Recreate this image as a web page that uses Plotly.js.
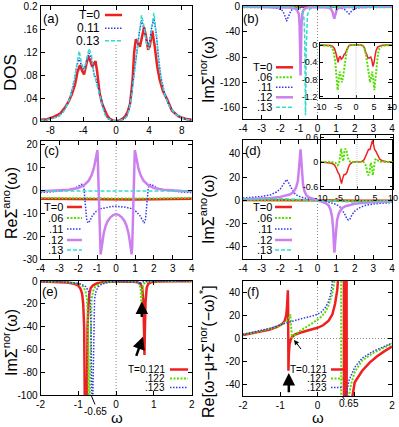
<!DOCTYPE html>
<html>
<head>
<meta charset="utf-8">
<script src="https://cdn.plot.ly/plotly-3.0.1.min.js"></script>
<style>html,body{margin:0;padding:0;background:#fff}</style>
</head>
<body>
<div id="fig" style="width:399px;height:427px"></div>
<script>
// ---------- values ----------
// (a) DOS
const aRedX = [-9.2,-8.4,-7.6,-6.8,-6.2,-5.8,-5.4,-5.0,-4.7,-4.4,-4.1,-3.9,-3.6,-3.4,-3.1,-2.9,-2.7,-2.5,-2.3,-2.0,-1.7,-1.4,-1.1,-0.8,-0.4,0,0.4,0.8,1.1,1.4,1.7,2.0,2.2,2.4,2.6,2.9,3.2,3.4,3.6,3.9,4.1,4.4,4.7,5.0,5.3,5.7,6.2,6.8,7.6,8.4,9.2];
const aRedY = [0.002,0.003,0.007,0.013,0.024,0.033,0.046,0.063,0.085,0.097,0.086,0.081,0.1,0.113,0.103,0.094,0.1,0.104,0.085,0.048,0.03,0.019,0.01,0.004,0.001,0,0.001,0.004,0.008,0.016,0.03,0.07,0.12,0.142,0.138,0.129,0.15,0.163,0.15,0.124,0.13,0.157,0.13,0.095,0.072,0.052,0.038,0.018,0.008,0.004,0.002];
const aX = [-9.2,-8,-7,-6.4,-5.9,-5.5,-5.1,-4.8,-4.5,-4.2,-3.9,-3.6,-3.3,-3.0,-2.7,-2.5,-2.2,-1.9,-1.6,-1.3,-1.0,-0.5,0,0.5,1.0,1.3,1.6,1.9,2.2,2.5,2.8,3.1,3.4,3.7,4.0,4.3,4.6,4.9,5.2,5.5,6.0,6.5,7.2,8.2,9.2];
const aBlueY = [0.001,0.003,0.008,0.017,0.03,0.046,0.07,0.095,0.11,0.095,0.09,0.105,0.118,0.108,0.083,0.075,0.058,0.04,0.023,0.011,0.004,0.001,0,0.001,0.003,0.009,0.022,0.05,0.09,0.118,0.152,0.175,0.16,0.14,0.13,0.16,0.178,0.15,0.105,0.073,0.043,0.026,0.012,0.004,0.001];
const aCyanY = [0.001,0.003,0.008,0.016,0.03,0.045,0.07,0.1,0.122,0.1,0.088,0.105,0.126,0.115,0.08,0.072,0.058,0.04,0.022,0.01,0.004,0.001,0,0.001,0.003,0.008,0.02,0.045,0.083,0.112,0.15,0.184,0.165,0.135,0.125,0.16,0.188,0.15,0.1,0.07,0.042,0.025,0.012,0.004,0.001];

// (b) Im Sigma_nor
const bFlatX = [-4,-2,0,2,4];
const bRedY = [-0.3,-0.4,-0.5,-0.4,-0.3];
const bGreenY = [-0.8,-1,-1.2,-1,-0.8];
const bBlueX = [-4,-3,-2.5,-2.1,-1.9,-1.78,-1.7,-1.66,-1.62,-1.54,-1.42,-1.25,-1,-0.5,0,0.5,1,1.25,1.45,1.6,1.7,1.8,1.95,2.2,2.6,3,4];
const bBlueY = [-0.3,-0.6,-1.2,-3,-6,-12,-19,-23,-20,-13,-6,-3,-1.5,-0.6,-0.4,-0.5,-1,-2,-4.5,-8.5,-11.5,-8,-4,-1.8,-0.8,-0.5,-0.2];
const bVioletX = [-4,-3,-2,-1.5,-1.25,-1.1,-1.0,-0.96,-0.93,-0.91,-0.89,-0.86,-0.82,-0.75,-0.6,-0.4,0,0.4,0.6,0.72,0.8,0.86,0.9,0.93,0.97,1.03,1.12,1.3,1.6,2,3,4];
const bVioletY = [-0.2,-0.3,-0.6,-1.2,-2.5,-5,-12,-30,-75,-109,-75,-30,-12,-5,-2,-1,-0.6,-0.8,-1.6,-3.5,-8,-14,-19,-16,-10,-5,-2.5,-1.2,-0.6,-0.4,-0.2,-0.1];
const bCyanX = [-4,-2,-1.4,-1.1,-0.9,-0.8,-0.73,-0.69,-0.66,-0.645,-0.63,-0.61,-0.58,-0.54,-0.48,-0.4,-0.25,0,0.5,1,2,4];
const bCyanY = [-0.1,-0.3,-0.8,-1.8,-4,-8,-18,-45,-110,-172,-150,-70,-30,-14,-7,-3.5,-1.5,-0.6,-0.3,-0.2,-0.1,0];
// (b) inset
const biRedX = [-10,-8,-7,-6.5,-6,-5.6,-5.3,-5.0,-4.7,-4.4,-4.1,-3.7,-3.3,-3.0,-2.7,-2.4,-2.0,-1.5,0,1.5,2.0,2.4,2.7,3.0,3.3,3.7,4.1,4.4,4.7,5.0,5.3,5.6,6,6.5,7,8,10];
const biRedY = [0,0,-0.01,-0.03,-0.08,-0.18,-0.3,-0.4,-0.3,-0.26,-0.33,-0.3,-0.22,-0.2,-0.14,-0.07,-0.02,0,0,0,-0.02,-0.08,-0.18,-0.22,-0.3,-0.3,-0.28,-0.35,-0.5,-0.42,-0.25,-0.12,-0.05,-0.02,-0.01,0,0];
const biGreenX = [-10,-8,-7,-6.5,-6.1,-5.7,-5.4,-5.1,-4.8,-4.5,-4.2,-3.9,-3.6,-3.3,-3.0,-2.6,-2.2,-1.7,0,1.7,2.2,2.6,3.0,3.3,3.6,3.9,4.2,4.5,4.8,5.1,5.4,5.7,6.1,6.5,7,8,10];
const biGreenY = [0,-0.01,-0.03,-0.08,-0.2,-0.45,-0.8,-1.05,-0.8,-0.62,-0.75,-0.87,-0.75,-0.55,-0.35,-0.15,-0.04,0,0,0,-0.04,-0.15,-0.35,-0.55,-0.75,-0.87,-0.75,-0.62,-0.8,-1.05,-0.8,-0.45,-0.2,-0.08,-0.03,-0.01,0];

// (c) Re Sigma_ano
const cFlatX = [-4,-3,-2,-1,0,1,2,3,4];
const cRedY = [-3.7,-3.8,-3.9,-4.0,-4.0,-4.0,-3.9,-3.8,-3.7];
const cGreenY = [-3.4,-3.5,-3.6,-3.6,-3.7,-3.6,-3.6,-3.5,-3.3];
const cCyanY = [-0.4,-0.3,-0.3,-0.3,-0.3,-0.3,-0.3,-0.3,-0.4];
const cBlueX = [-4,-3.5,-3,-2.5,-2.2,-2,-1.85,-1.76,-1.7,-1.66,-1.62,-1.56,-1.49,-1.4,-1.25,-1.05,-0.8,-0.5,-0.2,0,0.2,0.5,0.8,1.05,1.25,1.4,1.49,1.56,1.62,1.66,1.7,1.76,1.85,2,2.2,2.5,3,3.5,4];
const cBlueY = [-1,-0.8,-0.4,0.2,0.8,1.7,2.6,2.4,1,-3,-8,-12.5,-14.3,-13.5,-11,-9.2,-8,-7.4,-7.1,-7,-7.1,-7.4,-8,-9.2,-11,-13.5,-14.3,-12.5,-8,-3,1,2.4,2.6,1.7,0.8,0.2,-0.4,-0.8,-1];
const cVioletX = [-4,-3.5,-3,-2.5,-2,-1.7,-1.45,-1.3,-1.18,-1.08,-1.02,-0.99,-0.97,-0.94,-0.91,-0.88,-0.85,-0.82,-0.78,-0.72,-0.65,-0.55,-0.45,-0.3,-0.15,0,0.15,0.3,0.45,0.55,0.65,0.72,0.78,0.82,0.85,0.88,0.91,0.94,0.97,0.99,1.02,1.08,1.18,1.3,1.45,1.7,2,2.5,3,3.5,4];
const cVioletY = [-0.4,-0.3,-0.2,0.2,1,2.2,4.2,6.5,9.5,13.5,16.5,17.5,14,5,-6,-17,-25,-28,-26,-22,-18.5,-15.5,-13.5,-11.8,-10.8,-10.4,-10.8,-11.8,-13.5,-15.5,-18.5,-22,-26,-28,-25,-17,-6,5,14,17.5,16.5,13.5,9.5,6.5,4.2,2.2,1,0.2,-0.2,-0.3,-0.4];

// (d) Im Sigma_ano
const dFlatX = [-4,-2,0,2,4];
const dRedY = [0.3,0.4,0,-0.4,-0.3];
const dGreenY = [0.2,0.3,0,-0.3,-0.2];
const dCyanY = [1.2,1.5,0,-1.5,-1.2];
const dBlueX = [-4,-3.5,-3,-2.5,-2.2,-2,-1.85,-1.75,-1.66,-1.58,-1.47,-1.35,-1.2,-1,-0.7,-0.45,-0.2,0,0.2,0.45,0.7,1,1.2,1.35,1.47,1.58,1.66,1.75,1.85,2,2.2,2.5,3,3.5,4];
const dBlueY = [2,2.5,3.3,4.9,7.2,9.8,13.5,16.8,18,16,12,9,5.5,3.5,2,1.3,0.5,0,-0.5,-1.3,-2,-3.5,-5.5,-9,-12,-16,-17,-15.8,-12.5,-9.2,-6.8,-4.6,-3.1,-2.4,-1.9];
const dVioletX = [-4,-3,-2.5,-2,-1.5,-1.3,-1.15,-1.05,-0.98,-0.94,-0.91,-0.88,-0.84,-0.78,-0.7,-0.6,-0.45,-0.25,0,0.25,0.45,0.6,0.7,0.78,0.84,0.88,0.91,0.94,0.98,1.05,1.15,1.3,1.5,2,2.5,3,4];
const dVioletY = [1,1.5,2,3,5,7,11,17,27,38,44,38,24,14,8,4.5,2.5,1.2,0,-1.2,-2.5,-4.5,-8,-14,-24,-38,-45,-38,-27,-17,-11,-7,-5,-3,-2,-1.5,-1];
// (d) inset
const diRedX = [-10,-8,-7,-6.3,-5.8,-5.3,-4.9,-4.6,-4.3,-4.0,-3.6,-3.2,-2.8,-2.4,-2.0,-1.5,-1,0,1,1.5,2.0,2.4,2.8,3.2,3.6,4.0,4.3,4.6,4.9,5.3,5.8,6.3,7,8,10];
const diRedY = [0,-0.01,-0.03,-0.07,-0.14,-0.25,-0.3,-0.42,-0.52,-0.4,-0.3,-0.3,-0.25,-0.14,-0.06,-0.02,0,0,0,0.02,0.06,0.14,0.25,0.3,0.3,0.4,0.52,0.42,0.3,0.25,0.14,0.07,0.03,0.01,0];
const diGreenX = [-10,-7,-6,-5.4,-5.0,-4.7,-4.4,-4.1,-3.8,-3.5,-3.2,-2.9,-2.6,-2.2,-1.8,-1,0,1,1.8,2.2,2.6,2.9,3.2,3.5,3.8,4.1,4.4,4.7,5.0,5.4,6,7,10];
const diGreenY = [0,0,-0.02,-0.08,-0.05,0.15,0.32,0.1,0.02,0.25,0.32,0.28,0.12,0.03,0,0,0,0,0,-0.03,-0.12,-0.28,-0.32,-0.25,-0.02,-0.1,-0.32,-0.15,0.05,0.08,0.02,0,0];

// (e) Im Sigma_nor near Tc
const eRedX = [-2,-1.6,-1.3,-1.1,-1.0,-0.94,-0.9,-0.87,-0.845,-0.83,-0.8,-0.77,-0.755,-0.73,-0.705,-0.67,-0.6,-0.5,-0.35,-0.1,0.2,0.45,0.58,0.65,0.69,0.72,0.74,0.75,0.76,0.78,0.81,0.85,0.92,1.1,1.5,2];
const eRedY = [-0.4,-0.7,-1.3,-2.5,-4,-7,-11,-20,-40,-100,-600,-100,-40,-20,-11,-6,-3.5,-2,-1,-0.5,-0.4,-0.6,-1.2,-2.5,-6,-18,-45,-65,-45,-18,-6,-2.5,-1.2,-0.5,-0.3,-0.2];
const eGreenX = [-2,-1.6,-1.3,-1.1,-0.95,-0.87,-0.81,-0.77,-0.745,-0.725,-0.71,-0.695,-0.675,-0.65,-0.61,-0.55,-0.45,-0.3,-0.1,0.2,0.45,0.57,0.62,0.65,0.67,0.69,0.72,0.77,0.9,1.2,1.6,2];
const eGreenY = [-0.3,-0.6,-1,-1.8,-3,-5,-9,-16,-35,-100,-600,-100,-35,-16,-9,-5,-2.8,-1.3,-0.6,-0.3,-0.5,-1.2,-3,-8,-20,-8,-3,-1.2,-0.5,-0.3,-0.2,-0.1];
const eBlueX = [-2,-1.6,-1.3,-1.05,-0.9,-0.8,-0.73,-0.69,-0.665,-0.645,-0.63,-0.615,-0.595,-0.57,-0.53,-0.47,-0.38,-0.25,-0.05,0.3,0.5,0.6,0.63,0.66,0.72,1,1.5,2];
const eBlueY = [-0.3,-0.5,-0.9,-1.8,-3,-5,-9,-16,-35,-100,-600,-100,-35,-16,-9,-5,-2.8,-1.3,-0.5,-0.3,-0.6,-1.5,-3,-1.5,-0.6,-0.2,-0.1,-0.1];

// (f) Re[w - mu + Sigma_nor(-w)*]
const fRedX = [-2,-1.6,-1.3,-1.1,-0.95,-0.88,-0.84,-0.82,-0.805,-0.795,-0.787,-0.78,-0.77,-0.75,-0.72,-0.68,-0.6,-0.45,-0.25,0,0.15,0.3,0.4,0.47,0.53,0.58,0.64,0.7,0.72,0.765,0.775,0.79,0.9,0.94,1.0,1.2,1.4,1.6,1.8,2];
const fRedY = [3,5.2,7.5,10,12.5,15.5,20,27,36,42,20,-28,-14,-5,-1,1.5,3.5,5.2,7,9.3,11.5,15.5,21,30,42,55,90,600,-600,-600,600,-600,-70,-50,-38,-28,-21,-15.5,-11,-7];
const fGreenX = [-2,-1.5,-1.2,-1,-0.85,-0.78,-0.745,-0.728,-0.715,-0.7,-0.685,-0.66,-0.6,-0.5,-0.3,-0.1,0.1,0.2,0.3,0.38,0.45,0.52,0.58,0.63,0.645,0.72,0.78,0.83,0.9,1,1.2,1.5,1.8,2];
const fGreenY = [3.5,6.5,9,11.5,14.5,17,19,21,14,4,0.5,1.5,3.5,6,10,14,19,22.5,29,37,48,80,200,600,-600,-150,-75,-52,-40,-29,-19,-12.5,-7.5,-4.5];
const fBlueX = [-2,-1.5,-1.2,-1,-0.8,-0.7,-0.6,-0.4,-0.2,0,0.1,0.2,0.28,0.34,0.39,0.45,0.5,0.56,0.62,0.7,0.76,0.85,1,1.2,1.5,1.8,2];
const fBlueY = [3.5,7,9.5,12,14,15,16,17.5,19,21,23,26.5,31,37,46,70,150,null,-300,-80,-50,-36,-25,-17,-11,-7,-4];

// tick values / labels
const aXTicks = [-8,-4,0,4,8];
const aYTicks = [0,0.04,0.08,0.12,0.16,0.2];
const aYLabels = ['0','.04','.08','.12','.16','0.2'];
const wideTicks = [-4,-3,-2,-1,0,1,2,3,4];
const bYTicks = [0,-40,-80,-120,-160];
const insXTicks = [-10,-5,0,5,10];
const biYTicks = [0,-0.4,-0.8,-1.2];
const cYTicks = [20,10,0,-10,-20,-30];
const dYTicks = [40,20,0,-20,-40];
const diYTicks = [0.6,0,-0.6];
const narrowTicks = [-2,-1,0,1,2];
const eYTicks = [0,-20,-40,-60,-80,-100];
const fYTicks = [40,20,0,-20,-40];
const fXLabels = ['-2','-1','0','','2'];

const legA = ['T=0','0.11','0.13'];
const legT = ['T=0','.06','.11','.12','.13'];
const legE = ['T=0.121','.122','.123'];

// ---------- styling ----------
const W = 399, H = 427;
const FONT = 'Liberation Sans, Arial, sans-serif';
const fx = p => p / W;
const fy = p => 1 - p / H;
const lbl = v => v.map(String);

const red = {color: '#ee2020', width: 2.5};
const redThin = {color: '#ee2020', width: 1.5};
const green = {color: '#55dd00', width: 2, dash: '2px,1.5px'};
const blue = {color: '#3636f0', width: 1.5, dash: '1.5px,1.5px'};
const violet = {color: '#cc80f0', width: 2.5};
const cyan = {color: '#33ddcc', width: 1.5, dash: '4px,2px'};

function base(o, vals, labels, fs) {
  return Object.assign(o, {
    tickmode: 'array', tickvals: vals, ticktext: labels,
    ticks: 'inside', ticklen: fs < 10 ? 3 : 4, tickcolor: '#000',
    showline: true, mirror: 'ticks', linecolor: '#000', linewidth: 1,
    showgrid: false, zeroline: false, fixedrange: true,
    tickfont: {family: FONT, size: fs, color: '#000'}
  });
}
function xax(l, r, range, vals, labels, anchor, fs) {
  return base({domain: [fx(l), fx(r)], range: range, anchor: anchor}, vals, labels, fs);
}
function yax(t, b, range, vals, labels, anchor, fs) {
  return base({domain: [fy(b), fy(t)], range: range, anchor: anchor}, vals, labels, fs);
}
function tr(x, y, xa, ya, line) {
  return {x: x, y: y, xaxis: xa, yaxis: ya, type: 'scatter', mode: 'lines',
    line: line, hoverinfo: 'skip', showlegend: false, connectgaps: false};
}

const data = [
  tr(aRedX, aRedY, 'x', 'y', red),
  tr(aX, aBlueY, 'x', 'y', blue),
  tr(aX, aCyanY, 'x', 'y', cyan),

  tr(bFlatX, bRedY, 'x2', 'y2', red),
  tr(bFlatX, bGreenY, 'x2', 'y2', green),
  tr(bBlueX, bBlueY, 'x2', 'y2', blue),
  tr(bVioletX, bVioletY, 'x2', 'y2', violet),
  tr(bCyanX, bCyanY, 'x2', 'y2', cyan),
  tr(biRedX, biRedY, 'x3', 'y3', redThin),
  tr(biGreenX, biGreenY, 'x3', 'y3', green),

  tr(cFlatX, cRedY, 'x4', 'y4', red),
  tr(cFlatX, cGreenY, 'x4', 'y4', green),
  tr(cBlueX, cBlueY, 'x4', 'y4', blue),
  tr(cVioletX, cVioletY, 'x4', 'y4', violet),
  tr(cFlatX, cCyanY, 'x4', 'y4', cyan),

  tr(dFlatX, dRedY, 'x5', 'y5', red),
  tr(dFlatX, dGreenY, 'x5', 'y5', green),
  tr(dBlueX, dBlueY, 'x5', 'y5', blue),
  tr(dVioletX, dVioletY, 'x5', 'y5', violet),
  tr(dFlatX, dCyanY, 'x5', 'y5', cyan),
  tr(diRedX, diRedY, 'x6', 'y6', redThin),
  tr(diGreenX, diGreenY, 'x6', 'y6', green),

  tr(eRedX, eRedY, 'x7', 'y7', red),
  tr(eGreenX, eGreenY, 'x7', 'y7', green),
  tr(eBlueX, eBlueY, 'x7', 'y7', blue),

  tr(fRedX, fRedY, 'x8', 'y8', red),
  tr(fGreenX, fGreenY, 'x8', 'y8', green),
  tr(fBlueX, fBlueY, 'x8', 'y8', blue)
];

// ---------- shapes: zero lines, legend samples, leader lines ----------
const dotted = {color: '#888', width: 1, dash: '1px,2px'};
const faint = {color: '#c8c8c8', width: 1, dash: '1px,1px'};
const shapes = [
  {type: 'line', xref: 'x', yref: 'y', x0: 0, x1: 0, y0: 0, y1: 0.135, line: dotted, layer: 'below'},
  {type: 'line', xref: 'x2', yref: 'y2', x0: 0, x1: 0, y0: -178, y1: 1, line: dotted, layer: 'below'},
  {type: 'line', xref: 'x3', yref: 'y3', x0: 0, x1: 0, y0: -1.24, y1: 0.04, line: faint},
  {type: 'line', xref: 'x4', yref: 'y4', x0: 0, x1: 0, y0: -30, y1: 21.5, line: dotted, layer: 'below'},
  {type: 'line', xref: 'x5', yref: 'y5', x0: 0, x1: 0, y0: -50.5, y1: 0, line: dotted, layer: 'below'},
  {type: 'line', xref: 'x6', yref: 'y6', x0: 0, x1: 0, y0: -0.65, y1: 0.65, line: faint},
  {type: 'line', xref: 'x7', yref: 'y7', x0: 0, x1: 0, y0: -100, y1: 0, line: dotted, layer: 'below'},
  {type: 'line', xref: 'x8', yref: 'y8', x0: 0, x1: 0, y0: -50, y1: 50, line: dotted, layer: 'below'},
  {type: 'line', xref: 'x8', yref: 'y8', x0: -2, x1: 2, y0: 0, y1: 0, line: dotted, layer: 'below'},
  {type: 'line', xref: 'paper', yref: 'paper', x0: fx(91.5), x1: fx(95), y0: fy(396), y1: fy(404.5), line: {color: '#000', width: 1}},
  {type: 'line', xref: 'paper', yref: 'paper', x0: fx(342), x1: fx(344.5), y0: fy(396), y1: fy(399.5), line: {color: '#000', width: 1}}
];

const annotations = [];
function txt(x, y, text, size, extra) {
  annotations.push(Object.assign({xref: 'paper', yref: 'paper', x: fx(x), y: fy(y), text: text,
    showarrow: false, xanchor: 'center', yanchor: 'middle',
    font: {family: FONT, size: size, color: '#000'}}, extra || {}));
}
function legend(labels, styles, xEnd, s0, s1, ys, size) {
  labels.forEach((t, i) => {
    txt(xEnd, ys[i], t, size, {xanchor: 'right'});
    shapes.push({type: 'line', xref: 'paper', yref: 'paper', x0: fx(s0), x1: fx(s1),
      y0: fy(ys[i]), y1: fy(ys[i]), line: styles[i]});
  });
}
function arrow(xa, ya, tx, ty, hx, hy, w) {
  annotations.push({xref: xa, yref: ya, axref: xa, ayref: ya, x: hx, y: hy, ax: tx, ay: ty,
    text: '', showarrow: true, arrowhead: 2, arrowsize: 1, arrowwidth: w, arrowcolor: '#000'});
}

const five = [red, green, blue, violet, cyan];
legend(legA, [red, blue, cyan], 102, 105, 122, [15, 28.3, 40.7], 12);
legend(legT, five, 274, 276, 293, [67.3, 77.3, 87.3, 97.3, 107.3], 11);
legend(legT, five, 65, 67, 82, [207, 218, 229, 240, 250], 11);
legend(legT, five, 273.5, 275, 292, [207, 218, 229, 240, 250], 11);
legend(legE, [red, green, blue], 167, 170, 188, [369.5, 378.5, 387.5], 10);
legend(legE, [red, green, blue], 329, 331, 343, [369.5, 378.5, 387.5], 10);

txt(51, 18, '(a)', 13);
txt(251, 18, '(b)', 13);
txt(51.5, 151, '(c)', 13);
txt(253, 151, '(d)', 13);
txt(50, 291.5, '(e)', 13);
txt(253, 291.5, '(f)', 13);

txt(11, 73, 'DOS', 17, {textangle: -90});
txt(207, 70, 'ImΣ<sup>nor</sup>(ω)', 16, {textangle: -90});
txt(10, 203, 'ReΣ<sup>ano</sup>(ω)', 16, {textangle: -90});
txt(207, 209, 'ImΣ<sup>ano</sup>(ω)', 16, {textangle: -90});
txt(10, 343, 'ImΣ<sup>nor</sup>(ω)', 16, {textangle: -90});
txt(207, 352, 'Re[ω−μ+Σ<sup>nor</sup>(−ω)<sup>*</sup>]', 16, {textangle: -90});
txt(116.5, 417, 'ω', 15);
txt(318, 417, 'ω', 15);
txt(95, 411.5, '-0.65', 10);
txt(349, 403.5, '0.65', 10);

arrow('x7', 'y7', 0.68, -33, 0.68, -18, 2.5);
arrow('x7', 'y7', 0.52, -67, 0.71, -49, 2.5);
arrow('x8', 'y8', -0.77, -48, -0.77, -30, 2.5);
arrow('x8', 'y8', -0.41, -10.5, -0.63, -1.2, 1);

const layout = {
  width: W, height: H,
  margin: {l: 0, r: 0, t: 0, b: 0},
  paper_bgcolor: '#fff', plot_bgcolor: 'rgba(0,0,0,0)',
  font: {family: FONT, color: '#000'},
  showlegend: false,
  xaxis:  xax(40.5, 191.7, [-9.2, 9.2], aXTicks, lbl(aXTicks), 'y', 10),
  yaxis:  yax(6, 121, [0, 0.2], aYTicks, aYLabels, 'x', 10),
  xaxis2: xax(243, 392, [-4, 4], wideTicks, lbl(wideTicks), 'y2', 10),
  yaxis2: yax(6, 119, [-178, 1], bYTicks, lbl(bYTicks), 'x2', 10),
  xaxis3: xax(320, 392, [-10, 10], insXTicks, lbl(insXTicks), 'y3', 9),
  yaxis3: yax(43.3, 98.3, [-1.24, 0.04], biYTicks, lbl(biYTicks), 'x3', 9),
  xaxis4: xax(40.5, 191.7, [-4, 4], wideTicks, lbl(wideTicks), 'y4', 10),
  yaxis4: yax(141, 259, [-30, 21.5], cYTicks, lbl(cYTicks), 'x4', 10),
  xaxis5: xax(243, 392, [-4, 4], wideTicks, lbl(wideTicks), 'y5', 10),
  yaxis5: yax(140, 259, [-50.5, 52], dYTicks, lbl(dYTicks), 'x5', 10),
  xaxis6: xax(321, 393, [-10, 10], insXTicks, lbl(insXTicks), 'y6', 9),
  yaxis6: yax(135, 189, [-0.65, 0.65], diYTicks, lbl(diYTicks), 'x6', 9),
  xaxis7: xax(40.5, 191.7, [-2, 2], narrowTicks, lbl(narrowTicks), 'y7', 10),
  yaxis7: yax(281, 395, [-100, 0], eYTicks, lbl(eYTicks), 'x7', 10),
  xaxis8: xax(243, 392, [-2, 2], narrowTicks, fXLabels, 'y8', 10),
  yaxis8: yax(281, 396, [-50, 50], fYTicks, lbl(fYTicks), 'x8', 10),
  shapes: shapes,
  annotations: annotations
};

Plotly.newPlot('fig', data, layout, {displayModeBar: false, staticPlot: true});
</script>
</body>
</html>
